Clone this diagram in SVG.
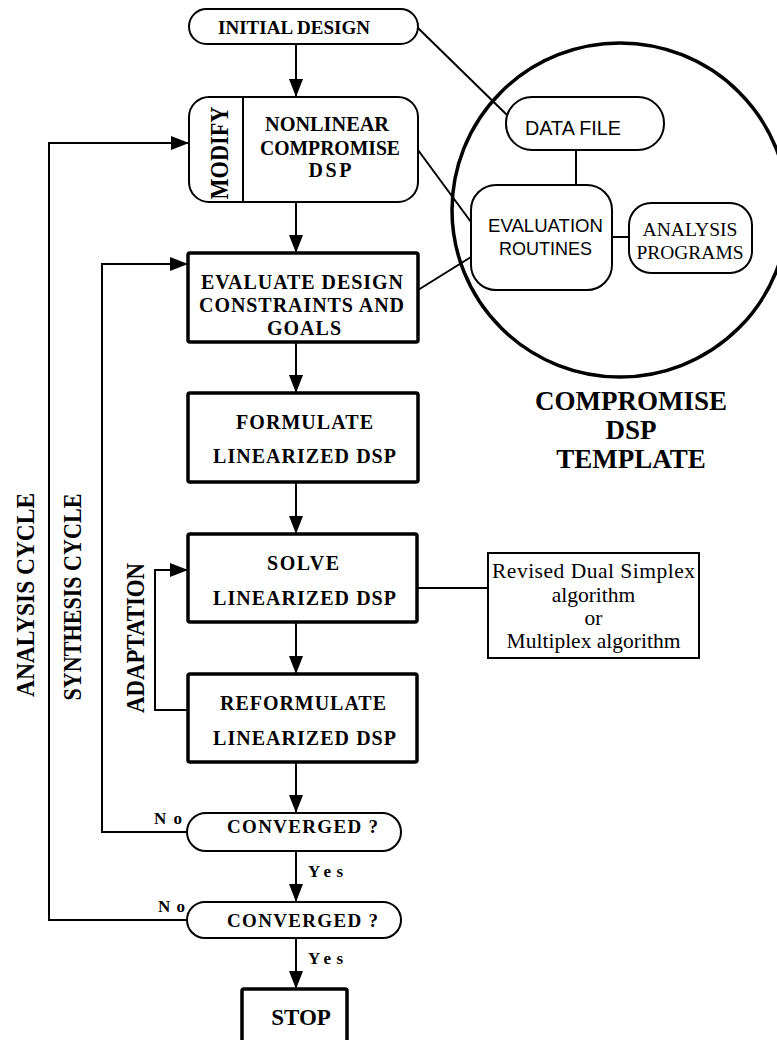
<svg xmlns="http://www.w3.org/2000/svg" width="777" height="1040" viewBox="0 0 777 1040">
  <style>
    .bg { fill: #ffffff; }
    .thin { fill: #ffffff; stroke: #000; stroke-width: 2; }
    .thick { fill: #ffffff; stroke: #000; stroke-width: 3.5; }
    .wire { fill: none; stroke: #000; stroke-width: 2; }
    .tb { font-family: "Liberation Serif", "Times New Roman", serif; font-weight: bold; fill: #000; }
    .tr { font-family: "Liberation Serif", "Times New Roman", serif; fill: #000; }
    .ts { font-family: "Liberation Sans", Arial, sans-serif; fill: #000; }
  </style>
  <defs>
    <marker id="arrow" markerUnits="userSpaceOnUse" markerWidth="18" markerHeight="14" refX="18" refY="7" orient="auto">
      <path d="M0,0 L18,7 L0,14 z" fill="#000"/>
    </marker>
  </defs>
  <rect class="bg" x="0" y="0" width="777" height="1040"/>

  <!-- compromise DSP template (circle and its contents) -->
  <g id="template">
    <ellipse cx="620" cy="210" rx="168" ry="167" fill="none" stroke="#000" stroke-width="3.5"/>
    <text class="tb" x="631" y="410" font-size="27" text-anchor="middle">COMPROMISE</text>
    <text class="tb" x="631" y="439" font-size="27" text-anchor="middle">DSP</text>
    <text class="tb" x="631" y="468" font-size="27" text-anchor="middle">TEMPLATE</text>
  </g>

  <!-- connectors -->
  <g id="connectors">
    <line class="wire" x1="296" y1="44" x2="296" y2="97" marker-end="url(#arrow)"/>
    <line class="wire" x1="296" y1="202" x2="296" y2="253" marker-end="url(#arrow)"/>
    <line class="wire" x1="296" y1="342" x2="296" y2="393" marker-end="url(#arrow)"/>
    <line class="wire" x1="296" y1="482" x2="296" y2="534" marker-end="url(#arrow)"/>
    <line class="wire" x1="296" y1="622" x2="296" y2="674" marker-end="url(#arrow)"/>
    <line class="wire" x1="296" y1="762" x2="296" y2="813" marker-end="url(#arrow)"/>
    <line class="wire" x1="296" y1="851" x2="296" y2="902" marker-end="url(#arrow)"/>
    <line class="wire" x1="296" y1="938" x2="296" y2="989" marker-end="url(#arrow)"/>
    <!-- adaptation loop -->
    <polyline class="wire" points="188,710 155,710 155,570 188,570" marker-end="url(#arrow)"/>
    <!-- synthesis cycle -->
    <polyline class="wire" points="187,832 102,832 102,264 188,264" marker-end="url(#arrow)"/>
    <!-- analysis cycle -->
    <polyline class="wire" points="187,920 49,920 49,143 189,143" marker-end="url(#arrow)"/>
    <!-- solver note -->
    <line class="wire" x1="417" y1="588" x2="488" y2="588"/>
    <!-- links into the template -->
    <line class="wire" x1="418" y1="28" x2="507" y2="115"/>
    <line class="wire" x1="418" y1="150" x2="471" y2="222"/>
    <line class="wire" x1="418" y1="290" x2="471" y2="257"/>
    <line class="wire" x1="576" y1="150" x2="576" y2="185"/>
    <line class="wire" x1="612" y1="237" x2="629" y2="237"/>
  </g>

  <g id="initial-design">
    <rect class="thin" x="189" y="9" width="229" height="35" rx="17.5"/>
    <text class="tb" x="294" y="34" font-size="19" text-anchor="middle" textLength="152">INITIAL DESIGN</text>
  </g>

  <g id="nonlinear-dsp">
    <rect class="thin" x="189" y="97" width="229" height="105" rx="20"/>
    <line class="wire" x1="243" y1="97" x2="243" y2="202"/>
    <text class="tb" transform="translate(228,153) rotate(-90)" font-size="26" text-anchor="middle" textLength="93" lengthAdjust="spacingAndGlyphs">MODIFY</text>
    <text class="tb" x="327" y="131" font-size="20" text-anchor="middle" textLength="124" lengthAdjust="spacingAndGlyphs">NONLINEAR</text>
    <text class="tb" x="330" y="155" font-size="20" text-anchor="middle" textLength="140" lengthAdjust="spacingAndGlyphs">COMPROMISE</text>
    <text class="tb" x="330" y="177" font-size="20" text-anchor="middle" textLength="43">DSP</text>
  </g>

  <g id="evaluate">
    <rect class="thick" x="188" y="253" width="230" height="89" rx="2"/>
    <text class="tb" x="302" y="289" font-size="20" text-anchor="middle" textLength="202">EVALUATE DESIGN</text>
    <text class="tb" x="301.5" y="312" font-size="20" text-anchor="middle" textLength="205">CONSTRAINTS AND</text>
    <text class="tb" x="304" y="335" font-size="20" text-anchor="middle" textLength="74">GOALS</text>
  </g>

  <g id="formulate">
    <rect class="thick" x="188" y="393" width="230" height="89" rx="2"/>
    <text class="tb" x="304.5" y="429" font-size="20" text-anchor="middle" textLength="137">FORMULATE</text>
    <text class="tb" x="304.5" y="463" font-size="20" text-anchor="middle" textLength="183">LINEARIZED DSP</text>
  </g>

  <g id="solve">
    <rect class="thick" x="188" y="534" width="229" height="88" rx="2"/>
    <text class="tb" x="303" y="570" font-size="20" text-anchor="middle" textLength="72">SOLVE</text>
    <text class="tb" x="304.5" y="605" font-size="20" text-anchor="middle" textLength="183">LINEARIZED DSP</text>
  </g>

  <g id="reformulate">
    <rect class="thick" x="188" y="674" width="229" height="88" rx="2"/>
    <text class="tb" x="303" y="710" font-size="20" text-anchor="middle" textLength="166">REFORMULATE</text>
    <text class="tb" x="304.5" y="745" font-size="20" text-anchor="middle" textLength="183">LINEARIZED DSP</text>
  </g>

  <g id="converged-1">
    <rect class="thin" x="187" y="813" width="214" height="38" rx="19" stroke-width="3"/>
    <text class="tb" x="302.5" y="833" font-size="19" text-anchor="middle" textLength="151">CONVERGED ?</text>
    <text class="tb" x="168" y="824" font-size="17" text-anchor="middle" textLength="28">No</text>
    <text class="tb" x="325.5" y="877" font-size="17" text-anchor="middle" textLength="35">Yes</text>
  </g>

  <g id="converged-2">
    <rect class="thin" x="187" y="902" width="214" height="36" rx="18" stroke-width="3"/>
    <text class="tb" x="302.5" y="927" font-size="19" text-anchor="middle" textLength="151">CONVERGED ?</text>
    <text class="tb" x="171.5" y="912" font-size="17" text-anchor="middle" textLength="27">No</text>
    <text class="tb" x="325.5" y="964" font-size="17" text-anchor="middle" textLength="35">Yes</text>
  </g>

  <g id="stop">
    <rect class="thick" x="242" y="989" width="105" height="70" rx="2"/>
    <text class="tb" x="301" y="1025" font-size="23" text-anchor="middle">STOP</text>
  </g>

  <g id="solver-note">
    <rect class="thin" x="488" y="553" width="211" height="105"/>
    <text class="tr" x="593.5" y="578" font-size="21.5" text-anchor="middle" textLength="203">Revised Dual Simplex</text>
    <text class="tr" x="593.5" y="602" font-size="21.5" text-anchor="middle">algorithm</text>
    <text class="tr" x="593.5" y="625" font-size="21.5" text-anchor="middle">or</text>
    <text class="tr" x="593.5" y="648" font-size="21.5" text-anchor="middle">Multiplex algorithm</text>
  </g>

  <g id="data-file">
    <rect class="thin" x="506" y="97" width="158" height="53" rx="26"/>
    <text class="ts" x="573" y="135" font-size="20" text-anchor="middle" textLength="96" lengthAdjust="spacingAndGlyphs">DATA FILE</text>
  </g>

  <g id="evaluation-routines">
    <rect class="thin" x="471" y="185" width="141" height="105" rx="25"/>
    <text class="ts" x="545.5" y="232" font-size="19" text-anchor="middle" textLength="115" lengthAdjust="spacingAndGlyphs">EVALUATION</text>
    <text class="ts" x="545.5" y="255" font-size="19" text-anchor="middle" textLength="93" lengthAdjust="spacingAndGlyphs">ROUTINES</text>
  </g>

  <g id="analysis-programs">
    <rect class="thin" x="629" y="203" width="123" height="70" rx="22"/>
    <text class="tr" x="690" y="236" font-size="19" text-anchor="middle" textLength="95" lengthAdjust="spacingAndGlyphs">ANALYSIS</text>
    <text class="tr" x="690" y="259" font-size="19" text-anchor="middle" textLength="107" lengthAdjust="spacingAndGlyphs">PROGRAMS</text>
  </g>

  <g id="cycle-labels">
    <text class="tb" transform="translate(34,595) rotate(-90)" font-size="25" text-anchor="middle" textLength="204" lengthAdjust="spacingAndGlyphs">ANALYSIS CYCLE</text>
    <text class="tb" transform="translate(81,597) rotate(-90)" font-size="25" text-anchor="middle" textLength="207" lengthAdjust="spacingAndGlyphs">SYNTHESIS CYCLE</text>
    <text class="tb" transform="translate(144,638) rotate(-90)" font-size="25" text-anchor="middle" textLength="150" lengthAdjust="spacingAndGlyphs">ADAPTATION</text>
  </g>
</svg>
